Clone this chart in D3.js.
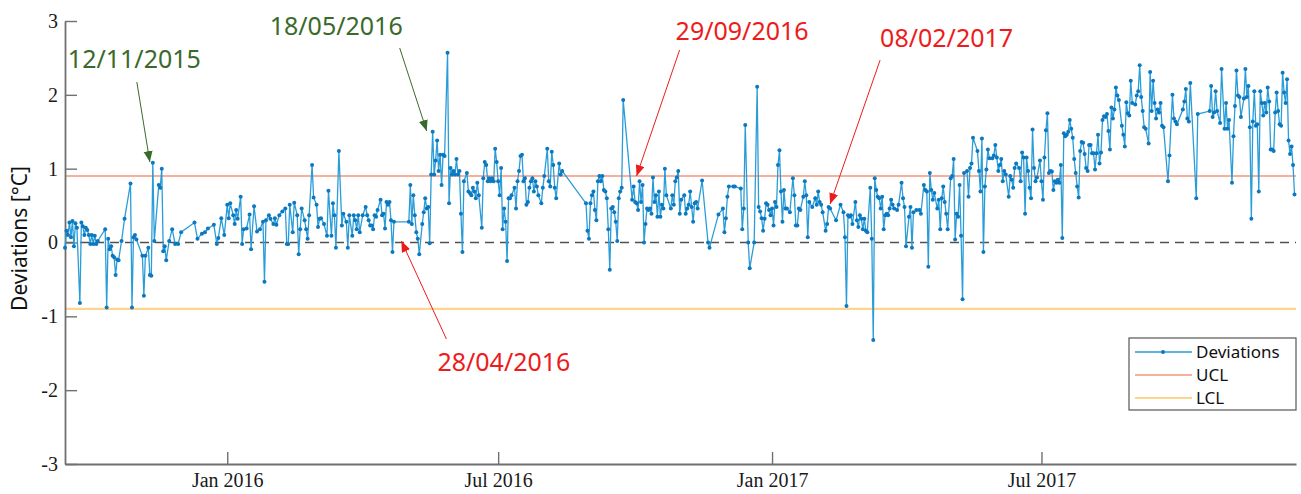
<!DOCTYPE html>
<html>
<head>
<meta charset="utf-8">
<script src="https://cdn.jsdelivr.net/npm/d3@7"></script>
<style>
  body { margin: 0; background: #fff; }
  .tick text { font-family: "Liberation Serif", "Times New Roman", "DejaVu Serif", serif !important; }
</style>
</head>
<body>
<div id="chart"></div>
<script>
const WIDTH = 1301, HEIGHT = 494;
const margin = {top: 21, right: 5, bottom: 30, left: 65};
const width = WIDTH - margin.left - margin.right;
const height = HEIGHT - margin.top - margin.bottom;

// time range of the x axis
const startDate = new Date(2015, 8, 14);
const endDate = new Date(2017, 11, 19);
const yTicks = [-3, -2, -1, 0, 1, 2, 3];
const ucl = 0.9, lcl = -0.9;
const legendLabels = ["Deviations", "UCL", "LCL"];

// deviations: [days since startDate, deviation °C]
const dev2015 = [[0,-0.07],[1,0.16],[2,0.10],[3,0.27],[4,0.07],[5,0.29],[6,-0.05],[7,0.26],[8,0.20],[10,-0.82],[11,0.27],[12,0.22],[13,0.10],[14,0.20],[15,0.17],[16,0.10],[17,-0.02],[18,0.10],[19,-0.02],[20,0.09],[21,-0.02],[22,0.02],[27,0.18],[28,-0.88],[29,0.05],[30,-0.09],[31,-0.05],[32,-0.18],[33,-0.20],[34,-0.44],[35,-0.23],[36,-0.24],[38,0.02],[40,0.32],[44,0.80],[45,-0.88],[46,0.07],[47,0.10],[48,0.04],[52,-0.18],[53,-0.72],[54,-0.18],[56,-0.07],[57,-0.44],[58,-0.45],[59,1.08],[60,0.02],[63,0.78],[64,0.74],[65,1.00],[66,-0.12],[67,-0.05],[68,-0.24],[70,0.02],[72,0.18],[74,-0.02],[76,-0.02],[78,0.14],[87,0.27],[89,0.05],[92,0.12],[94,0.14],[96,0.19],[100,0.24],[102,-0.02],[103,0.06],[105,0.33],[107,0.10]];

const dev2016a = [[109,0.51],[110,0.33],[111,0.53],[113,0.37],[114,0.25],[115,0.44],[116,0.32],[118,0.62],[119,-0.02],[120,0.18],[122,0.19],[124,0.38],[125,-0.09],[127,0.49],[129,0.15],[131,0.18],[133,0.28],[134,-0.53],[135,0.30],[137,0.37],[138,0.32],[140,0.25],[141,0.33],[142,0.24],[144,0.37],[146,0.42],[148,0.46],[149,-0.02],[150,-0.02],[151,0.51],[153,0.14],[154,0.54],[156,0.37],[157,-0.16],[158,0.18],[159,0.46],[161,0.30],[162,0.18],[163,0.05],[164,0.37],[166,1.05],[167,0.61],[169,0.51],[170,0.21],[171,0.32],[172,0.33],[174,0.25],[176,0.09],[177,0.70],[179,0.09],[180,0.53],[181,0.37],[182,-0.07],[184,1.24],[186,0.23],[187,0.39],[189,0.28],[190,-0.07],[191,0.37],[193,0.09],[194,0.37],[195,0.30],[196,0.18],[197,0.37],[198,0.14],[200,0.37],
  [202,0.48],[203,0.37],[204,0.30],[205,0.23],[206,0.23],[207,0.18],[208,0.37],[209,0.35],[210,0.44],[212,0.58],[213,0.37],[214,0.39],[215,0.19],[216,0.55],[217,0.51],[218,0.55],[219,0.30],[220,-0.13],[221,0.28],[231,0.28],[232,0.78],[233,0.25],[234,0.64],[235,0.37],[236,0.14],[237,0.05],[238,-0.16],[240,0.25],[241,0.41],[242,0.60],[243,0.46],[244,0.48],[245,-0.01],[246,0.92],[247,1.50],[248,0.92],[249,1.11],[250,1.38],[251,0.97],[252,1.19],[253,0.78],[254,1.19],[255,1.17],[257,2.57],[258,0.53],[259,1.01],[260,0.92],[261,0.97],[262,0.92],[263,1.13],[264,0.92],[265,0.97],[266,0.39],[267,-0.13],[268,0.83],[270,0.94],[271,0.69],[272,0.67],[273,0.64],[274,0.74],[275,0.69],[276,0.60],[277,0.81],[278,0.64],[280,0.20],[281,0.87],[282,1.09],[283,1.05],[284,0.83],[285,0.87],[286,0.83],[287,0.87],[288,0.83],[289,1.27],[290,1.09]];

const dev2016b = [[291,0.83],[292,0.64],[293,1.01],[294,0.18],[295,0.46],[296,0.28],[297,-0.25],[298,0.60],[299,0.60],[300,0.64],[302,0.74],[303,0.46],[304,0.83],[305,0.97],[306,1.17],[307,1.19],[308,0.83],[309,0.87],[310,0.51],[311,0.55],[312,0.74],[313,0.83],[314,0.87],[315,0.69],[316,0.83],[317,0.76],[318,0.64],[320,0.53],[321,0.74],[322,0.90],[324,1.27],[325,0.83],[326,0.76],[327,1.23],[328,1.05],[329,0.74],[330,0.60],[332,1.07],[333,0.92],[334,0.97],[350,0.53],[351,0.16],[352,0.05],[353,0.53],[354,0.64],[355,0.69],[356,0.44],[357,0.30],[358,0.83],[359,0.90],[360,0.83],[361,0.90],[362,0.71],[363,0.69],[364,0.60],[365,0.18],[366,-0.37],[367,0.46],[368,0.48],[369,0.41],[370,0.28],[371,0.02],[372,0.60],[373,0.69],[374,0.74],[375,1.93],[381,0.58],[382,0.76],[383,0.55],[384,0.53],[385,0.44],[386,0.83],[387,0.55],[388,0.78],[389,0.00],[390,0.25],[391,0.46],[392,0.44],[393,0.46],[394,0.39],[395,0.88],[396,0.55],[397,0.64],[398,0.35],[399,0.69],[400,0.35],[401,0.51],[402,0.46],[403,1.00],[404,0.64],
  [407,0.46],[408,0.64],[409,0.51],[410,0.83],[411,0.88],[412,0.97],[413,0.39],[414,0.58],[416,0.64],[417,0.39],[418,0.46],[419,0.51],[420,0.69],[421,0.48],[422,0.28],[423,0.53],[424,0.55],[425,0.46],[428,0.84],[432,0.00],[433,-0.07],[439,0.38],[442,0.46],[443,0.14],[444,0.33],[445,0.62],[446,0.76],[449,0.76],[450,0.76],[454,0.73],[455,0.18],[456,0.46],[457,1.59],[459,0.00],[460,-0.35],[463,0.00],[465,2.11],[466,0.48],[467,0.42],[468,0.33],[469,0.16],[470,0.32],[471,0.53],[472,0.51],[473,0.44],[474,0.37]];

const dev2017a = [[475,0.46],[476,0.23],[477,0.55],[478,0.48],[479,1.05],[480,1.25],[481,0.69],[482,0.28],[483,0.71],[484,0.46],[485,0.46],[487,0.41],[489,0.87],[490,0.64],[491,0.23],[492,0.23],[493,0.46],[494,0.44],[496,0.62],[497,0.83],[498,0.64],[499,0.07],[500,0.55],[502,0.48],[504,0.60],[505,0.51],[506,0.69],[507,0.55],[508,0.51],[509,0.41],[511,0.16],[512,0.25],[513,0.48],[514,0.46],[518,0.30],[521,0.51],[523,0.41],[524,0.07],[525,-0.86],[526,0.37],[527,0.35],[528,0.37],[529,0.25],[531,0.55],[532,0.30],[533,0.21],[534,0.37],[535,0.32],[536,0.18],[537,0.32],[538,0.16],[539,0.14],[541,0.74],[542,0.05],[543,-1.32],[544,0.87],[545,0.71],[546,0.62],[547,0.60],[548,0.46],[549,0.62],[550,0.18],[551,0.37],[552,0.39],[553,0.37],[554,0.46],[555,0.58],[556,0.51],[557,0.46],[559,0.44],[560,0.51],[562,0.81],[563,0.60],[564,0.48],[565,-0.05],[567,0.35],[568,0.48],[569,-0.07],[570,0.41],[572,0.44],[574,0.44],[575,0.39],[577,0.78],[578,0.71],[579,0.69],[580,-0.33],[581,0.94],[582,0.71],[583,0.58],[584,0.67],[586,0.46],[587,0.58],[588,0.18],[589,0.60],[590,0.76],[591,0.55],[592,0.39],[593,0.18],[595,0.87],[596,0.90],[597,1.13],[598,0.04],[599,0.39],[600,0.35],[601,0.78],[602,0.09],[603,-0.77],[604,0.94],[606,0.97],[607,0.62],[608,1.01],[609,1.07],[610,1.42],
  [613,1.24],[614,0.97],[615,0.69],[616,1.41],[617,-0.13],[618,0.76],[619,0.99],[620,1.26],[621,1.14],[623,1.14],[624,1.18],[625,1.32],[626,1.15],[627,0.97],[628,1.05],[629,1.13],[630,0.83],[631,0.97],[632,0.92],[634,0.62],[635,0.90],[636,0.85],[637,0.74],[638,1.01],[639,1.07],[641,1.01],[642,0.83],[643,1.22],[644,1.15],[645,0.39],[646,1.15],[647,0.97],[648,0.74],[649,0.60],[650,1.53],[651,1.01],[652,0.83],[653,0.88],[655,1.11]];

const dev2017b = [[656,0.83],[657,0.58],[658,1.15],[659,1.52],[660,1.75],[661,0.94],[662,0.97],[663,0.96],[664,0.71],[665,0.83],[666,0.81],[667,0.85],[668,0.81],[669,1.05],[670,0.06],[671,1.48],[672,1.44],[673,1.46],[674,1.50],[675,1.66],[676,1.54],[677,1.42],[678,1.13],[679,0.94],[680,0.76],[681,0.61],[682,1.24],[683,1.36],[684,1.35],[685,1.20],[686,1.01],[687,0.97],[688,1.32],[689,1.32],[690,1.21],[691,1.21],[692,0.99],[693,1.21],[694,1.46],[695,1.07],[696,1.22],[697,1.66],[698,1.71],[699,1.70],[700,1.74],[701,1.51],[702,1.26],[703,1.83],[704,1.68],[705,1.80],[706,2.10],[707,1.99],[708,1.93],[710,1.58],[711,1.46],[712,1.30],[713,1.90],[714,1.75],[715,1.72],[716,2.19],[717,1.89],[719,1.87],[720,1.99],[721,2.05],[722,2.40],[723,1.97],[724,1.78],[725,1.56],[726,1.54],[728,1.34],[729,2.31],[730,1.78],[731,2.19],[732,1.89],[733,1.68],[734,1.80],[735,1.76],[736,1.89],[737,1.58],[738,1.56],[741,0.83],[742,1.18],[744,2.00],[745,1.68],[746,1.64],[747,1.60],[751,1.80],[752,1.91],[753,2.08],[754,1.68],[755,1.64],[756,2.16],[760,0.60],[761,1.74],[769,1.78],[770,2.12],[771,1.70],[772,1.76],[773,2.05],[774,1.78],[776,1.62],[777,2.35],[779,1.54],[780,1.89],[781,1.54],[782,1.66],[784,0.81],[785,1.44],[786,1.85],[787,2.33],[788,1.99],[789,1.97],[790,1.70],[792,1.95],[793,2.35],[794,1.97],[795,2.12],[796,1.56],[797,0.32],[798,1.64],[799,2.05],[800,1.58],[801,1.60],[802,0.69],[803,2.05],[804,1.89],[805,1.72],[806,1.89],[807,1.76],[808,2.10],[809,1.91],[810,1.26],[811,1.26],[812,1.24],[813,1.76],[814,2.03],[815,1.78],[816,1.60],[817,1.58],[818,2.30],[819,2.03],[820,1.89],[821,2.21],[822,1.38],[823,1.20],[824,1.30],[825,1.05],[826,0.65]];

// annotated dates: arrow tip in data units, tail / text offsets in px from the tip
const annotations = [
  {label: "12/11/2015", color: "green", day: 57, value: 1.09, tail: [-13, -80], text: [-82, -94]},
  {label: "18/05/2016", color: "green", day: 243, value: 1.51, tail: [-27, -83], text: [-157, -96]},
  {label: "28/04/2016", color: "red", day: 226, value: 0.02, tail: [45, 98], text: [36, 130]},
  {label: "29/09/2016", color: "red", day: 384, value: 0.90, tail: [43, -126], text: [39, -136]},
  {label: "08/02/2017", color: "red", day: 514, value: 0.52, tail: [50, -144], text: [50, -157]}
];

const colors = {line: "#2a9dd8", dot: "#0b78c0", ucl: "#f5967a", lcl: "#fdd58c",
                green: "#3a6a2b", red: "#ee1b1b", axis: "#707070"};

const data = [].concat(dev2015, dev2016a, dev2016b, dev2017a, dev2017b)
  .map(d => ({date: d3.timeDay.offset(startDate, d[0]), value: d[1]}));

let svg = d3.select("#chart")
  .append("svg")
  .attr("width", WIDTH)
  .attr("height", HEIGHT)
  .append("g")
  .attr("transform", "translate(" + margin.left + "," + margin.top + ")");

let x = d3.scaleTime().domain([startDate, endDate]).range([0, width]);
let y = d3.scaleLinear().domain([-3, 3]).range([height, 0]);

// limits + zero line
svg.append("line")
  .attr("x1", 0).attr("x2", width)
  .attr("y1", y(lcl)).attr("y2", y(lcl))
  .attr("stroke", colors.lcl).attr("stroke-width", 2.2);
svg.append("line")
  .attr("x1", 0).attr("x2", width)
  .attr("y1", y(ucl)).attr("y2", y(ucl))
  .attr("stroke", colors.ucl).attr("stroke-width", 1.6);
svg.append("line")
  .attr("x1", 0).attr("x2", width)
  .attr("y1", y(0)).attr("y2", y(0))
  .attr("stroke", "#505050").attr("stroke-width", 1.6)
  .attr("stroke-dasharray", "9,6");

// axes
let xAxis = svg.append("g")
  .attr("transform", "translate(0," + height + ")")
  .call(d3.axisBottom(x)
    .ticks(d3.timeMonth.every(6))
    .tickFormat(d3.timeFormat("%b %Y"))
    .tickSize(-12).tickSizeOuter(0).tickPadding(9));

let yAxis = svg.append("g")
  .call(d3.axisLeft(y)
    .tickValues(yTicks)
    .tickFormat(d => String(d))
    .tickSize(-12).tickSizeOuter(0).tickPadding(7));

[xAxis, yAxis].forEach(function (g) {
  g.attr("font-family", "Liberation Serif").attr("font-size", 20);
  g.select(".domain").attr("stroke", colors.axis).attr("stroke-width", 1.8);
  g.selectAll(".tick line").attr("stroke", colors.axis).attr("stroke-width", 1.4);
  g.selectAll(".tick text")
    .attr("fill", "#1a1a1a")
    .attr("font-family", "Liberation Serif");
});

svg.append("text")
  .attr("transform", "translate(-38," + (y(0) - 4) + ") rotate(-90)")
  .style("text-anchor", "middle")
  .style("font-family", "'Noto Sans', sans-serif")
  .style("font-size", "21px")
  .attr("fill", "#111")
  .text("Deviations [°C]");

// series
let line = d3.line()
  .x(d => x(d.date))
  .y(d => y(d.value));

svg.append("path")
  .datum(data)
  .attr("fill", "none")
  .attr("stroke", colors.line)
  .attr("stroke-width", 1.3)
  .attr("d", line);

svg.selectAll("circle.pt")
  .data(data)
  .enter()
  .append("circle")
  .attr("class", "pt")
  .attr("cx", d => x(d.date))
  .attr("cy", d => y(d.value))
  .attr("r", 2)
  .attr("fill", colors.dot);

// arrow heads
let defs = d3.select("svg").append("defs");
["green", "red"].forEach(function (c) {
  defs.append("marker")
    .attr("id", "head-" + c)
    .attr("markerUnits", "userSpaceOnUse")
    .attr("markerWidth", 12).attr("markerHeight", 10)
    .attr("refX", 11).attr("refY", 4.5)
    .attr("orient", "auto")
    .append("path")
    .attr("d", "M0,0 L11,4.5 L0,9 Z")
    .attr("fill", colors[c]);
});

annotations.forEach(function (a) {
  let tx = x(d3.timeDay.offset(startDate, a.day));
  let ty = y(a.value);
  svg.append("line")
    .attr("x1", tx + a.tail[0]).attr("y1", ty + a.tail[1])
    .attr("x2", tx).attr("y2", ty)
    .attr("stroke", colors[a.color]).attr("stroke-width", 1)
    .attr("marker-end", "url(#head-" + a.color + ")");
  svg.append("text")
    .attr("x", tx + a.text[0]).attr("y", ty + a.text[1])
    .style("font-family", "'Noto Sans', sans-serif")
    .style("font-size", "25px")
    .attr("fill", colors[a.color])
    .text(a.label);
});

// legend
let legend = svg.append("g")
  .attr("transform", "translate(" + (width - 167) + "," + (height - 126) + ")");
legend.append("rect")
  .attr("width", 167).attr("height", 72)
  .attr("fill", "#fff").attr("stroke", "#555").attr("stroke-width", 1.2);
let legendColors = [colors.line, colors.ucl, colors.lcl];
legendLabels.forEach(function (lab, i) {
  let ly = 14 + i * 23;
  legend.append("line")
    .attr("x1", 6).attr("x2", 63).attr("y1", ly).attr("y2", ly)
    .attr("stroke", legendColors[i]).attr("stroke-width", i === 2 ? 2 : 1.4);
  if (i === 0) {
    legend.append("circle").attr("cx", 34).attr("cy", ly).attr("r", 2).attr("fill", colors.dot);
  }
  legend.append("text")
    .attr("x", 67).attr("y", ly)
    .attr("dy", "0.35em")
    .style("font-family", "'Noto Sans', sans-serif")
    .style("font-size", "17px")
    .attr("fill", "#111")
    .text(lab);
});
</script>
</body>
</html>
